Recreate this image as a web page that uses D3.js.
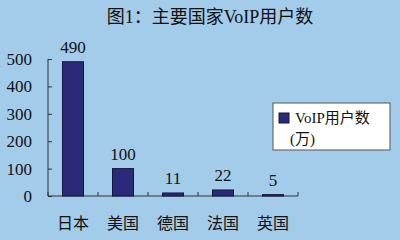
<!DOCTYPE html>
<html lang="zh">
<head>
<meta charset="UTF-8" />
<script src="https://d3js.org/d3.v7.min.js"></script>
<style>
    body { margin: 0; background: #a3cbea; }
    svg text { font-family: "Liberation Serif", "Noto Sans CJK SC", serif; fill: #111; }
</style>
</head>
<body>
<script>
    // data
    var countries = ["日本", "美国", "德国", "法国", "英国"];
    var users = [490, 100, 11, 22, 5];
    var yTicks = [0, 100, 200, 300, 400, 500];
    var titleText = "图1：主要国家VoIP用户数";
    var legendLines = ["VoIP用户数", "(万)"];

    var w = 400, h = 240;
    var plotLeft = 48, plotRight = 298, plotTop = 59, plotBottom = 196;

    var svg = d3.select("body").append("svg")
        .attr("width", w)
        .attr("height", h);

    svg.append("rect").attr("width", w).attr("height", h).attr("fill", "#a3cbea");

    var xScale = d3.scaleBand()
        .domain(countries)
        .range([plotLeft, plotRight])
        .paddingInner(0.58)
        .paddingOuter(0.29);

    var yScale = d3.scaleLinear()
        .domain([0, 500])
        .range([plotBottom, plotTop]);

    // title
    svg.append("text")
        .attr("x", 210)
        .attr("y", 23)
        .attr("text-anchor", "middle")
        .style("font-size", "18px")
        .text(titleText);

    // y axis
    var yAxis = svg.append("g")
        .attr("transform", "translate(" + plotLeft + ",0)")
        .call(d3.axisRight(yScale).tickValues(yTicks).tickSize(4).tickFormat(""));
    yAxis.select(".domain").attr("stroke", "#333").attr("d", "M0," + plotTop + "V" + plotBottom);
    yAxis.selectAll("line").attr("stroke", "#333");

    svg.selectAll(".ylab")
        .data(yTicks)
        .enter().append("text")
        .attr("class", "ylab")
        .attr("x", 32)
        .attr("y", function (d) { return yScale(d) + 6; })
        .attr("text-anchor", "end")
        .style("font-size", "17px")
        .text(function (d) { return d; });

    // x axis (ticks between categories, pointing up)
    var bw = (plotRight - plotLeft) / countries.length;
    svg.append("line")
        .attr("x1", plotLeft).attr("x2", plotRight)
        .attr("y1", plotBottom).attr("y2", plotBottom)
        .attr("stroke", "#333");
    svg.selectAll(".xtick")
        .data(d3.range(countries.length + 1))
        .enter().append("line")
        .attr("class", "xtick")
        .attr("x1", function (i) { return plotLeft + i * bw; })
        .attr("x2", function (i) { return plotLeft + i * bw; })
        .attr("y1", plotBottom).attr("y2", plotBottom - 4)
        .attr("stroke", "#333");

    svg.selectAll(".xlab")
        .data(countries)
        .enter().append("text")
        .attr("class", "xlab")
        .attr("x", function (d) { return xScale(d) + xScale.bandwidth() / 2; })
        .attr("y", 229)
        .attr("text-anchor", "middle")
        .style("font-size", "16px")
        .text(function (d) { return d; });

    // bars
    svg.selectAll(".bar")
        .data(countries)
        .enter().append("rect")
        .attr("class", "bar")
        .attr("x", function (d) { return xScale(d); })
        .attr("y", function (d, i) { return yScale(users[i]); })
        .attr("width", xScale.bandwidth())
        .attr("height", function (d, i) { return plotBottom - yScale(users[i]); })
        .attr("fill", "#2a2a78")
        .attr("stroke", "#15153f")
        .attr("stroke-width", 1);

    // value labels
    svg.selectAll(".vlab")
        .data(countries)
        .enter().append("text")
        .attr("class", "vlab")
        .attr("x", function (d) { return xScale(d) + xScale.bandwidth() / 2; })
        .attr("y", function (d, i) { return yScale(users[i]) - 9; })
        .attr("text-anchor", "middle")
        .style("font-size", "17px")
        .text(function (d, i) { return users[i]; });

    // legend
    var lg = svg.append("g").attr("transform", "translate(273,103)");
    lg.append("rect")
        .attr("width", 117).attr("height", 47)
        .attr("fill", "#fff")
        .attr("stroke", "#555");
    lg.append("rect")
        .attr("x", 6).attr("y", 10)
        .attr("width", 10).attr("height", 10)
        .attr("fill", "#2a2a78")
        .attr("stroke", "#15153f");
    lg.selectAll(".lgt")
        .data(legendLines)
        .enter().append("text")
        .attr("class", "lgt")
        .attr("x", function (d, i) { return i === 0 ? 22 : 17; })
        .attr("y", function (d, i) { return 20 + i * 21; })
        .style("font-size", "15px")
        .text(function (d) { return d; });
</script>
</body>
</html>
